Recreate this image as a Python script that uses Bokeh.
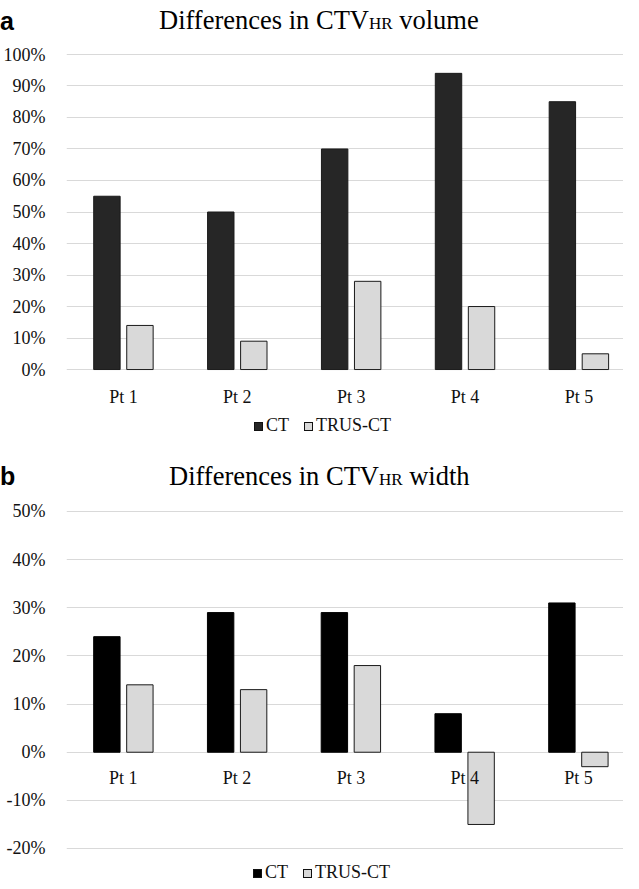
from bokeh.plotting import figure
from bokeh.models import (Range1d, FixedTicker, PrintfTickFormatter, Div,
                          ColumnDataSource)
from bokeh.transform import dodge
from bokeh.layouts import column
from bokeh.embed import file_html
from bokeh.resources import INLINE

# ---------------- data ----------------
categories = ["Pt 1", "Pt 2", "Pt 3", "Pt 4", "Pt 5"]
series_names = ["CT", "TRUS-CT"]
volume_ct = [55, 50, 70, 94, 85]
volume_trus_ct = [14, 9, 28, 20, 5]
width_ct = [24, 29, 29, 8, 31]
width_trus_ct = [14, 13, 18, -15, -3]
volume_yticks = [0, 10, 20, 30, 40, 50, 60, 70, 80, 90, 100]
width_yticks = [-20, -10, 0, 10, 20, 30, 40, 50]
panel_letters = ["a", "b"]
title_main = "Differences in CTV"
title_sub = "HR"
title_ends = ["volume", "width"]

SERIF = "Liberation Serif"
SANS = "Liberation Sans"
TRUS_FILL = "#d9d9d9"
SERIF_CSS = "font-family:'Liberation Serif',serif;"


def title_div(letter, title_end, height, letter_top, title_left, title_top):
    html = (
        f'<div style="position:relative;width:623px;height:{height}px;">'
        f'<span style="position:absolute;left:0px;top:{letter_top}px;'
        f"font-family:'Liberation Sans',sans-serif;font-weight:bold;"
        f'font-size:25px;line-height:25px;color:#000;">{letter}</span>'
        f'<span style="position:absolute;left:{title_left}px;top:{title_top}px;'
        f'{SERIF_CSS}font-size:26.5px;line-height:26.5px;color:#000;white-space:nowrap;">'
        f'{title_main}<span style="{SERIF_CSS}font-size:17px;">{title_sub}</span> '
        f'{title_end}</span></div>'
    )
    return Div(text=html, width=623, height=height, margin=0)


def legend_div(ct_fill, height, left, top):
    sq = ("display:inline-block;width:9px;height:9px;border:1px solid #111;"
          "vertical-align:baseline;")
    txt = f"{SERIF_CSS}font-size:18px;line-height:18px;color:#111;margin-left:3px;"
    html = (
        f'<div style="position:relative;width:623px;height:{height}px;">'
        f'<div style="position:absolute;left:{left}px;top:{top}px;white-space:nowrap;'
        f'{SERIF_CSS}font-size:18px;line-height:18px;color:#111;">'
        f'<span style="{sq}background:{ct_fill};"></span>'
        f'<span style="{txt}">{series_names[0]}</span>'
        f'<span style="{sq}background:{TRUS_FILL};margin-left:15px;"></span>'
        f'<span style="{txt}">{series_names[1]}</span>'
        f'</div></div>'
    )
    return Div(text=html, width=623, height=height, margin=0)


def make_chart(ct, trus, yticks, ct_fill, ct_line, height, border_top,
               border_bottom, border_left, cat_px, y_lo, y_hi, axis_at_zero):
    fw = 631 - (8 + border_left)
    p = figure(width=623, height=height, output_backend="svg",
               toolbar_location=None, min_border_left=border_left,
               min_border_right=0, min_border_top=border_top,
               min_border_bottom=border_bottom,
               x_range=Range1d(0.5, 0.5 + fw / cat_px),
               y_range=Range1d(y_lo, y_hi), margin=0)
    p.outline_line_color = None
    p.background_fill_color = "white"
    p.border_fill_color = "white"

    xs = list(range(1, len(categories) + 1))
    src = ColumnDataSource(dict(x=xs, ct=ct, trus=trus))
    p.vbar(x=dodge("x", -0.145), top="ct", bottom=0, width=0.232,
           source=src, fill_color=ct_fill, line_color=ct_line, line_width=1)
    p.vbar(x=dodge("x", 0.145), top="trus", bottom=0, width=0.232,
           source=src, fill_color=TRUS_FILL, line_color="#1a1a1a",
           line_width=1)

    p.xaxis.ticker = FixedTicker(ticks=xs)
    p.xaxis.major_label_overrides = {x: c for x, c in zip(xs, categories)}
    if axis_at_zero:
        p.xaxis.fixed_location = 0
    p.xaxis.axis_line_color = None
    p.xaxis.major_tick_line_color = None
    p.xaxis.minor_tick_line_color = None
    p.xaxis.major_label_standoff = 10
    p.xaxis.major_label_text_font = SERIF
    p.xaxis.major_label_text_font_size = "18px"
    p.xaxis.major_label_text_color = "#111111"

    p.yaxis.ticker = FixedTicker(ticks=yticks)
    p.yaxis.formatter = PrintfTickFormatter(format="%d%%")
    p.yaxis.axis_line_color = None
    p.yaxis.major_tick_line_color = None
    p.yaxis.minor_tick_line_color = None
    p.yaxis.major_label_standoff = 15
    p.yaxis.major_label_text_font = SERIF
    p.yaxis.major_label_text_font_size = "18px"
    p.yaxis.major_label_text_color = "#111111"

    p.xgrid.grid_line_color = None
    p.ygrid.ticker = FixedTicker(ticks=yticks)
    p.ygrid.grid_line_color = "#d9d9d9"
    p.ygrid.grid_line_width = 1.2
    return p


div_a = title_div(panel_letters[0], title_ends[0], height=44,
                  letter_top=9, title_left=159, title_top=7)
pa = make_chart(volume_ct, volume_trus_ct, volume_yticks, "#262626", "#1a1a1a",
                height=366, border_top=9, border_bottom=40, border_left=58,
                cat_px=115.5, y_lo=-0.3, y_hi=100.3, axis_at_zero=False)
leg_a = legend_div("#262626", height=36, left=254, top=6)

div_b = title_div(panel_letters[1], title_ends[1], height=50,
                  letter_top=18, title_left=169, title_top=17)
pb = make_chart(width_ct, width_trus_ct, width_yticks, "black", "black",
                height=361, border_top=14, border_bottom=8, border_left=55,
                cat_px=116, y_lo=-20.2, y_hi=50.2, axis_at_zero=True)
leg_b = legend_div("black", height=24, left=253, top=6)

layout = column(div_a, pa, leg_a, div_b, pb, leg_b, spacing=0)
open("out.html", "w").write(file_html(layout, INLINE))
